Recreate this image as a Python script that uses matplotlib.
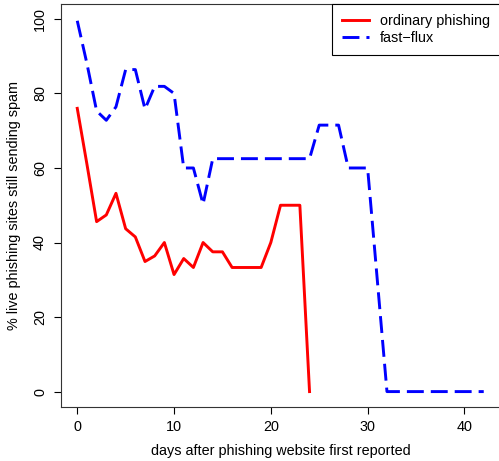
import matplotlib
matplotlib.use("Agg")
import matplotlib.pyplot as plt

# days since the phishing site was first reported
days_ordinary = list(range(0, 25))
ordinary = [76, 61, 45.6, 47.4, 53.2, 43.7, 41.5, 34.9, 36.4, 40,
            31.4, 35.7, 33.3, 40, 37.5, 37.5, 33.3, 33.3, 33.3, 33.3,
            40, 50, 50, 50, 0]

days_fastflux = list(range(0, 43))
fastflux = [99.5, 88, 75.3, 72.8, 76.4, 86.4, 86.4, 75.8, 81.9, 81.9,
            80, 60, 60, 50.3, 62.5, 62.5, 62.5, 62.5, 62.5, 62.5,
            62.5, 62.5, 62.5, 62.5, 62.5, 71.5, 71.5, 71.5, 60, 60,
            60, 30, 0, 0, 0, 0, 0, 0, 0, 0,
            0, 0, 0]

x_ticks = [0, 10, 20, 30, 40]
y_ticks = [0, 20, 40, 60, 80, 100]


def main():
    plt.rcParams['font.family'] = ['Liberation Sans', 'DejaVu Sans']
    plt.rcParams['font.size'] = 10.4

    W, H = 499, 461
    fig = plt.figure(figsize=(W / 100, H / 100), dpi=100)
    left, right, top, bottom = 61, 500, 4, 406.5
    ax = fig.add_axes([left / W, (H - bottom) / H,
                       (right - left) / W, (bottom - top) / H])

    ax.plot(days_ordinary, ordinary, color='#ff0000', linewidth=2.1,
            solid_joinstyle='round', label='ordinary phishing')
    ax.plot(days_fastflux, fastflux, color='#0000ff', linewidth=2.1,
            dashes=(5.8, 2.4), dash_joinstyle='round', label='fast\u2212flux')

    ax.set_xlim(-1.68, 43.68)
    ax.set_ylim(-4, 104)
    ax.set_xticks(x_ticks)
    ax.set_yticks(y_ticks)
    ax.tick_params(direction='out', length=5, width=0.8, pad=5,
                   colors='black', labelsize=10.4)
    for lbl in ax.get_yticklabels():
        lbl.set_rotation(90)
        lbl.set_va('center')
    for s in ax.spines.values():
        s.set_linewidth(0.8)
        s.set_color('#333333')

    ax.set_xlabel('days after phishing website first reported', labelpad=7)
    ax.set_ylabel('% live phishing sites still sending spam', labelpad=9)

    leg = ax.legend(loc='upper right', borderaxespad=0, fancybox=False,
                    framealpha=1, edgecolor='black', borderpad=0.7,
                    labelspacing=0.2, handlelength=1.9, handletextpad=0.75)
    leg.get_frame().set_linewidth(0.8)

    fig.savefig('out.png', dpi=100)


if __name__ == "__main__":
    main()
